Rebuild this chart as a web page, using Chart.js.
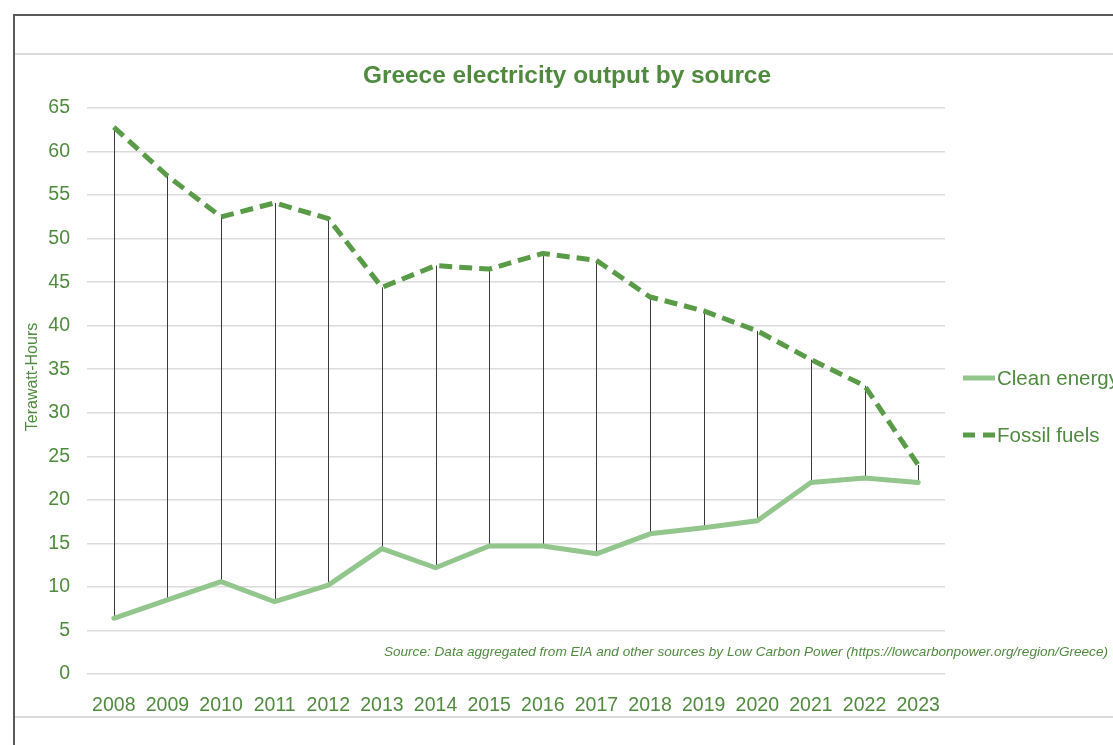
<!DOCTYPE html>
<html>
<head>
<meta charset="utf-8">
<script src="https://cdn.jsdelivr.net/npm/chart.js@4/dist/chart.umd.min.js"></script>
<style>
  html, body { margin: 0; padding: 0; background: #fff; overflow: hidden; width: 1113px; height: 745px; }
  .frame-top { position: absolute; left: 13px; top: 14px; width: 1100px; height: 2px; background: #5a5a5a; }
  .frame-left { position: absolute; left: 13px; top: 14px; width: 2px; height: 731px; background: #5a5a5a; }
  .rule { position: absolute; left: 15px; width: 1098px; height: 2px; background: #dcdcdc; }
  #wrap { position: absolute; left: 13px; top: 0; width: 1108px; height: 745px; }
</style>
</head>
<body>
<div class="frame-top"></div>
<div class="frame-left"></div>
<div class="rule" style="top:53px"></div>
<div class="rule" style="top:716px"></div>
<div id="wrap"><canvas id="c" width="1108" height="745"></canvas></div>
<script>
const years = ['2008','2009','2010','2011','2012','2013','2014','2015','2016','2017','2018','2019','2020','2021','2022','2023'];
const cleanEnergy = [6.4, 8.5, 10.6, 8.3, 10.2, 14.4, 12.2, 14.7, 14.7, 13.8, 16.1, 16.8, 17.6, 22.0, 22.5, 22.0];
const fossilFuels = [62.8, 57.2, 52.5, 54.1, 52.3, 44.4, 46.9, 46.5, 48.3, 47.5, 43.3, 41.7, 39.4, 36.1, 33.1, 24.0];
const yTicks = [0, 5, 10, 15, 20, 25, 30, 35, 40, 45, 50, 55, 60, 65];
const titleText = 'Greece electricity output by source';
const axisTitle = 'Terawatt-Hours';
const sourceText = 'Source: Data aggregated from EIA and other sources by Low Carbon Power (https://lowcarbonpower.org/region/Greece)';

const TEXT = '#4f8a3f';
const FOSSIL = '#5a9b48';
const CLEAN = '#92c68c';
const FONT = '"Liberation Sans", Arial, sans-serif';

const extras = {
  id: 'extras',
  beforeDatasetsDraw(chart) {
    const ctx = chart.ctx;
    const m0 = chart.getDatasetMeta(0), m1 = chart.getDatasetMeta(1);
    ctx.save();
    ctx.strokeStyle = '#3a3a3a';
    ctx.lineWidth = 1;
    for (let i = 0; i < m0.data.length; i++) {
      const a = m0.data[i], b = m1.data[i];
      const x = Math.round(a.x) + 0.5;
      ctx.beginPath();
      ctx.moveTo(x, a.y);
      ctx.lineTo(x, b.y);
      ctx.stroke();
    }
    ctx.restore();
  },
  afterDraw(chart) {
    const ctx = chart.ctx;
    const area = chart.chartArea;
    ctx.save();
    // title
    ctx.fillStyle = TEXT;
    ctx.font = 'bold 24.4px ' + FONT;
    ctx.textAlign = 'center';
    ctx.textBaseline = 'middle';
    ctx.fillText(titleText, chart.width / 2, 76);
    // axis title
    ctx.save();
    ctx.translate(20, 377);
    ctx.rotate(-Math.PI / 2);
    ctx.font = '16px ' + FONT;
    ctx.fillText(axisTitle, 0, 0);
    ctx.restore();
    // source note
    ctx.font = 'italic 13.6px ' + FONT;
    ctx.textAlign = 'right';
    ctx.fillText(sourceText, chart.width - 13, 652);
    // legend
    const lx = area.right + 18;
    const items = chart.data.datasets.map((d, i) => ({ d, y: i === 0 ? 378 : 435 }));
    items.forEach(({ d, y }) => {
      ctx.beginPath();
      ctx.strokeStyle = d.borderColor;
      ctx.lineWidth = 5;
      ctx.setLineDash(d.borderDash ? [12, 8] : []);
      ctx.moveTo(lx, y);
      ctx.lineTo(lx + 32, y);
      ctx.stroke();
      ctx.setLineDash([]);
      ctx.fillStyle = TEXT;
      ctx.font = '20.5px ' + FONT;
      ctx.textAlign = 'left';
      ctx.fillText(d.label, lx + 34, y + 1);
    });
    ctx.restore();
  }
};

new Chart(document.getElementById('c'), {
  type: 'line',
  data: {
    labels: years,
    datasets: [
      { label: 'Clean energy', data: cleanEnergy, borderColor: CLEAN, borderWidth: 5, pointRadius: 0, tension: 0, fill: false, borderCapStyle: 'round', borderJoinStyle: 'round' },
      { label: 'Fossil fuels', data: fossilFuels, borderColor: FOSSIL, borderWidth: 5, borderDash: [13, 7], pointRadius: 0, tension: 0, fill: false, borderJoinStyle: 'round' }
    ]
  },
  options: {
    responsive: false,
    animation: false,
    events: [],
    layout: { padding: { left: 6, right: 176, top: 108, bottom: 31 } },
    plugins: { legend: { display: false }, title: { display: false }, tooltip: { enabled: false } },
    scales: {
      x: {
        offset: true,
        grid: { display: false },
        border: { display: false },
        ticks: { color: TEXT, font: { family: FONT, size: 19.5 }, padding: 12, maxRotation: 0, autoSkip: false },
        afterFit(s) { s.height = 40; }
      },
      y: {
        min: 0, max: 65,
        afterBuildTicks(s) { s.ticks = yTicks.map(v => ({ value: v })); },
        grid: { color: '#dcdcdc', lineWidth: 1.5, drawTicks: false },
        border: { display: false },
        ticks: { color: TEXT, font: { family: FONT, size: 19.5 }, padding: 17 },
        afterFit(s) { s.width = 68; }
      }
    }
  },
  plugins: [extras]
});
</script>
</body>
</html>
